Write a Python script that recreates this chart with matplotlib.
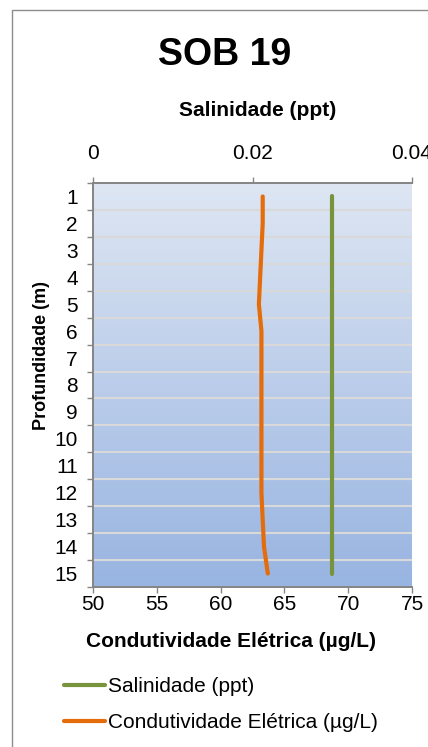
import matplotlib

matplotlib.use("Agg")
import matplotlib.pyplot as plt
import numpy as np
from matplotlib.patches import Rectangle

plt.rcParams["font.family"] = ["Liberation Sans", "DejaVu Sans"]

# data
depth = [1, 2, 3, 4, 5, 6, 7, 8, 9, 10, 11, 12, 13, 14, 15]
salinity = [0.03, 0.03, 0.03, 0.03, 0.03, 0.03, 0.03, 0.03, 0.03, 0.03, 0.03, 0.03, 0.03, 0.03, 0.03]
conductivity = [63.3, 63.3, 63.2, 63.1, 63.0, 63.2, 63.2, 63.2, 63.2, 63.2, 63.2, 63.2, 63.3, 63.4, 63.7]
cond_ticks = [50, 55, 60, 65, 70, 75]
sal_ticks = [0, 0.02, 0.04]
sal_tick_labels = ["0", "0.02", "0.04"]

green = "#77933C"
orange = "#E46C0A"
spine_col = "#868686"
W, H = 428, 747

fig = plt.figure(figsize=(W / 100, H / 100), dpi=100)
fig.patches.append(Rectangle((12 / W, -0.1), 1.2, 1.1 - 10 / H, transform=fig.transFigure,
                             fill=False, edgecolor="#8C8C8C", lw=1.0))

ax = fig.add_axes([93 / W, (H - 587) / H, 319 / W, 404 / H])
ax.set_xlim(50, 75)
ax.set_ylim(15.5, 0.5)

# vertical gradient in the plot area
grad = np.linspace(0, 1, 256).reshape(-1, 1)
top_c = np.array([222, 230, 243]) / 255.0
bot_c = np.array([152, 180, 225]) / 255.0
img = top_c[None, None, :] * (1 - grad[:, :, None]) + bot_c[None, None, :] * grad[:, :, None]
ax.imshow(img, extent=[50, 75, 15.5, 0.5], aspect="auto", zorder=0)

for y in np.arange(1.5, 15.0, 1.0):
    ax.axhline(y, color="#D9D9D9", lw=1.5, zorder=1)

ax2 = ax.twiny()
ax2.set_xlim(0, 0.04)

ax2.plot(salinity, depth, color=green, lw=3, solid_capstyle="round", zorder=3,
         label="Salinidade (ppt)")
ax.plot(conductivity, depth, color=orange, lw=3, solid_capstyle="round", zorder=3,
        label="Condutividade Elétrica (µg/L)")

# y axis: ticks at category boundaries, labels in the middle
ax.set_yticks(np.arange(0.5, 16.0, 1.0))
ax.set_yticklabels([])
ax.set_yticks(depth, minor=True)
ax.set_yticklabels([str(d) for d in depth], minor=True)
ax.tick_params(axis="y", which="major", length=4.5, width=1, color=spine_col, direction="out")
ax.tick_params(axis="y", which="minor", length=0, pad=11, labelsize=15)

ax.set_xticks(cond_ticks)
ax.tick_params(axis="x", length=4, width=1, color=spine_col, pad=2, labelsize=15)
ax2.set_xticks(sal_ticks)
ax2.set_xticklabels(sal_tick_labels)
ax2.tick_params(axis="x", length=4.5, width=1, color=spine_col, pad=10, labelsize=15)

for a in (ax, ax2):
    a.spines["right"].set_visible(False)
    for s in ("left", "top", "bottom"):
        a.spines[s].set_color(spine_col)
        a.spines[s].set_linewidth(1.3)

ax.set_xlabel("Condutividade Elétrica (µg/L)", fontsize=15, fontweight="bold")
ax.xaxis.set_label_coords(0.434, -0.136)
ax.xaxis.label.set_va("center")
ax2.set_xlabel("Salinidade (ppt)", fontsize=15, fontweight="bold")
ax2.xaxis.set_label_coords(0.517, 1.18)
ax2.xaxis.label.set_va("center")
ax.set_ylabel("Profundidade (m)", fontsize=13, fontweight="bold")
ax.yaxis.set_label_coords(-0.163, 0.574)
ax.yaxis.label.set_va("center")

fig.text(225 / W, 1 - 55 / H, "SOB 19", fontsize=27, fontweight="bold",
         ha="center", va="center")

h2, l2 = ax2.get_legend_handles_labels()
h1, l1 = ax.get_legend_handles_labels()
fig.legend(h2 + h1, l2 + l1, loc="upper left", bbox_to_anchor=(64 / W, 1 - 677 / H),
           frameon=False, fontsize=15, handlelength=1.97, handletextpad=0.15,
           labelspacing=0.83, borderpad=0, borderaxespad=0)

fig.savefig("out.png", dpi=100)
